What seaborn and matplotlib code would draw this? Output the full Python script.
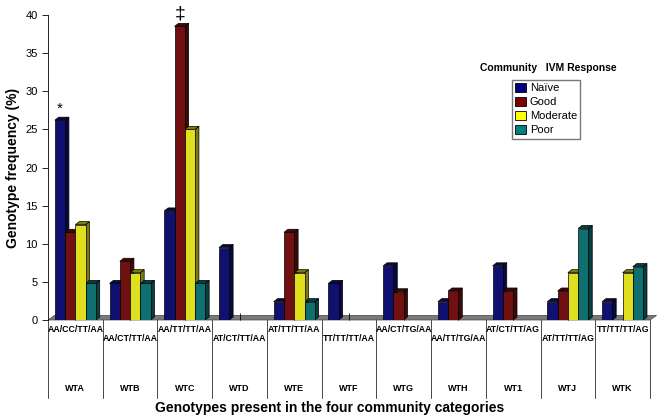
import seaborn as sns
import matplotlib.pyplot as plt
import matplotlib.colors as mcolors
import matplotlib.transforms as mtrans
from matplotlib.patches import Polygon, Patch
import pandas as pd

communities = ["WTA", "WTB", "WTC", "WTD", "WTE", "WTF", "WTG", "WTH", "WT1", "WTJ", "WTK"]
genotypes = ["AA/CC/TT/AA", "AA/CT/TT/AA", "AA/TT/TT/AA", "AT/CT/TT/AA", "AT/TT/TT/AA",
             "TT/TT/TT/AA", "AA/CT/TG/AA", "AA/TT/TG/AA", "AT/CT/TT/AG", "AT/TT/TT/AG",
             "TT/TT/TT/AG"]
responses = ["Naïve", "Good", "Moderate", "Poor"]
naive = [26.2, 4.8, 14.3, 9.5, 2.4, 4.8, 7.1, 2.4, 7.1, 2.4, 2.4]
good = [11.5, 7.7, 38.5, 0, 11.5, 0, 3.7, 3.8, 3.8, 3.8, 0]
moderate = [12.5, 6.2, 25.0, 0, 6.2, 0, 0, 0, 0, 6.2, 6.2]
poor = [4.8, 4.8, 4.8, 0, 2.4, 0, 0, 0, 0, 12.0, 7.0]
colors = ["#000080", "#800000", "#ffff00", "#008080"]

rows = []
for resp, vals in zip(responses, [naive, good, moderate, poor]):
    for c, v in zip(communities, vals):
        rows.append({"community": c, "response": resp, "freq": v})
df = pd.DataFrame(rows)

plt.rcParams['font.family'] = ['Liberation Sans', 'DejaVu Sans']
fig = plt.figure(figsize=(6.59, 4.17), dpi=100)
ax = fig.add_axes([48/659, 1-320/417, 602/659, 305/417])
sns.barplot(data=df, x="community", y="freq", hue="response", order=communities,
            hue_order=responses, palette=colors, width=0.75, edgecolor="black",
            linewidth=0.5, legend=False, ax=ax, zorder=3)

ax.set_xlim(-0.5, 10.5)
ax.set_ylim(0, 40)
ax.set_yticks(range(0, 41, 5))
ax.tick_params(axis='y', labelsize=8, length=4, width=0.6)
ax.tick_params(axis='x', labelbottom=False, length=5, width=0.6, direction='in')
for s in ["top", "right", "bottom"]:
    ax.spines[s].set_visible(False)
ax.spines["left"].set_linewidth(0.6)
ax.set_xlabel("")
ax.set_ylabel("Genotype frequency (%)", fontsize=10, fontweight='bold')

# pseudo 3D depth on the bars
dx, dy = 0.07, 0.4
for p in ax.patches:
    h = p.get_height()
    if h <= 0:
        continue
    x0, w = p.get_x(), p.get_width()
    dark = [c * 0.55 for c in mcolors.to_rgb(p.get_facecolor())]
    side = Polygon([(x0 + w, 0), (x0 + w + dx, dy), (x0 + w + dx, h + dy), (x0 + w, h)],
                   closed=True, facecolor=dark, edgecolor="black", linewidth=0.5, zorder=2.9)
    top = Polygon([(x0, h), (x0 + dx, h + dy), (x0 + w + dx, h + dy), (x0 + w, h)],
                  closed=True, facecolor=dark, edgecolor="black", linewidth=0.5, zorder=2.9)
    ax.add_patch(side)
    ax.add_patch(top)

# floor
floor = Polygon([(-0.5, 0), (10.5, 0), (10.5 + 0.12, 0.6), (-0.5 + 0.12, 0.6)], closed=True,
                facecolor="#7a7a7a", edgecolor="#444444", linewidth=0.5, zorder=1, clip_on=False)
ax.add_patch(floor)

# markers over bars
bars = [p for p in ax.patches if not isinstance(p, Polygon)]
n = len(communities)
wa = bars[0]
ax.text(wa.get_x() + wa.get_width() / 2, wa.get_height() + 0.6, "*", ha='center', va='bottom', fontsize=11)
wc = bars[n + 2]
ax.text(wc.get_x() + wc.get_width() / 2, wc.get_height() + 0.5, "‡", ha='center', va='bottom', fontsize=14)

# table below the plot
trans = mtrans.blended_transform_factory(ax.transData, ax.transAxes)
for i in range(n + 1):
    ax.plot([i - 0.5, i - 0.5], [0, -0.256], color="black", linewidth=0.5,
            transform=trans, clip_on=False)
for i, (c, g) in enumerate(zip(communities, genotypes)):
    yg = -0.015 if i % 2 == 0 else -0.045
    ax.text(i, yg, g, transform=trans, ha='center', va='top', fontsize=6.3,
            fontweight='bold')
    ax.text(i, -0.223, c, transform=trans, ha='center', va='center', fontsize=6.5,
            fontweight='bold')

fig.text(0.5, 1 - 408/417, "Genotypes present in the four community categories",
         ha='center', va='center', fontsize=10, fontweight='bold')

# legend
fig.text(548/659, 1 - 68/417, "Community   IVM Response", ha='center', va='center',
         fontsize=7.5, fontweight='bold')
handles = [Patch(facecolor=c, edgecolor="black", linewidth=0.6) for c in colors]
fig.legend(handles, responses, loc='upper left', bbox_to_anchor=(512/659, 1 - 80/417),
           fontsize=8, frameon=True, fancybox=False, edgecolor="#555555",
           handlelength=1.0, handleheight=0.8, handletextpad=0.3, labelspacing=0.35,
           borderpad=0.3, borderaxespad=0)

fig.savefig("out.png", dpi=100)
